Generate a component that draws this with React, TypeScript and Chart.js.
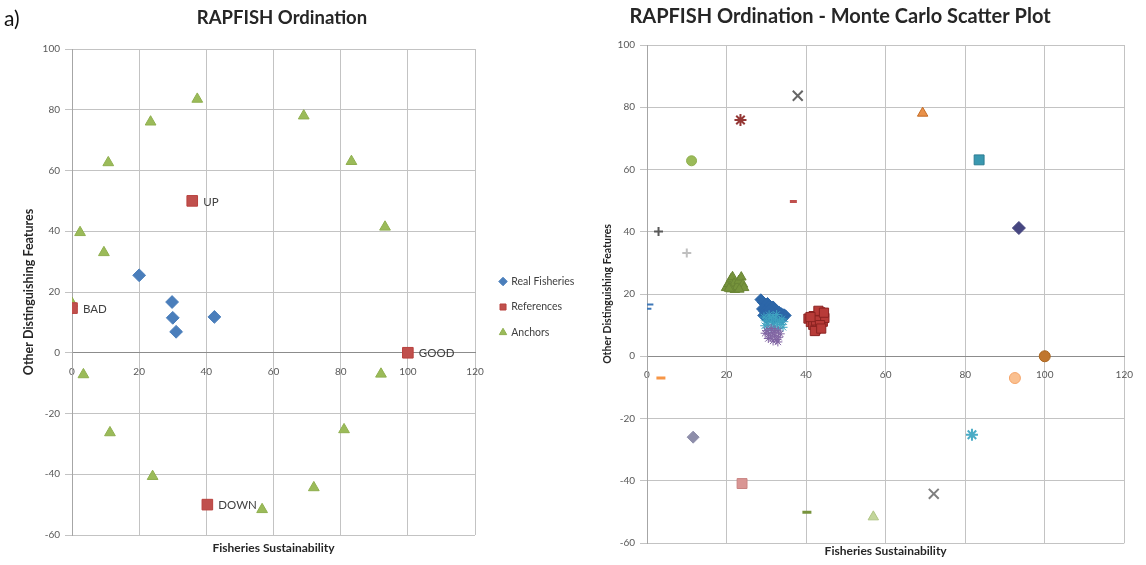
import React, { useEffect, useRef, useMemo } from "react";
import { Chart, registerables } from "chart.js";

Chart.register(...registerables);

const FONT = "Lato, 'Open Sans', sans-serif";

// ---------- Left chart: RAPFISH Ordination ----------
const xTicks = [0, 20, 40, 60, 80, 100, 120];
const yTicks = [-60, -40, -20, 0, 20, 40, 60, 80, 100];

const realFisheries = [
  { x: 20, y: 25.5 },
  { x: 29.8, y: 16.7 },
  { x: 30, y: 11.5 },
  { x: 31, y: 6.9 },
  { x: 42.4, y: 11.8 },
];

const referenceNames = ["BAD", "UP", "GOOD", "DOWN"];
const references = [
  { x: 0, y: 14.7 },
  { x: 35.8, y: 50 },
  { x: 100, y: 0 },
  { x: 40.3, y: -50 },
];

const anchors = [
  { x: 37.3, y: 83.5 },
  { x: 23.4, y: 76 },
  { x: 10.8, y: 62.6 },
  { x: 69, y: 78 },
  { x: 83.2, y: 63 },
  { x: 93.2, y: 41.4 },
  { x: 2.4, y: 39.6 },
  { x: 9.5, y: 33 },
  { x: 0, y: 16.3 },
  { x: 3.4, y: -7.2 },
  { x: 11.3, y: -26.3 },
  { x: 24, y: -40.7 },
  { x: 56.6, y: -51.6 },
  { x: 72, y: -44.4 },
  { x: 81, y: -25.3 },
  { x: 92, y: -7 },
];

// ---------- Right chart: Monte Carlo scatter ----------
const mcBlueDiamonds = [
  [28.6, 18.2], [29.2, 17.3], [29.8, 16.6], [30.3, 17], [30.8, 16.2], [31.2, 15.6],
  [31.7, 15.9], [32.2, 15.1], [32.7, 14.6], [33.2, 14.2], [33.8, 13.7], [34.4, 13.4],
  [34.8, 13.1], [29, 15.2], [29.6, 14.4], [30.2, 13.9], [30.7, 14.8], [31.4, 14.1],
  [32, 13.4], [32.6, 12.9], [33.3, 12.5], [29.3, 13.1], [30.1, 12.3], [31, 12.8],
  [31.8, 11.9], [34, 12.1],
];
const mcTealStars = [
  [29.4, 12.6], [29.9, 11.4], [30.4, 10.3], [30.9, 12.2], [31.3, 11], [31.8, 10],
  [32.3, 11.7], [32.8, 10.6], [33.3, 11.3], [33.9, 12], [34.4, 11.1], [30.2, 9.1],
  [31.2, 8.7], [32.1, 9.4], [33, 8.9], [30.7, 13.3], [31.7, 12.9], [32.6, 13.4],
  [33.7, 10.2], [29.6, 9.8], [34.2, 9.3],
];
const mcPurpleStars = [
  [30.1, 8.2], [30.6, 7.1], [31.1, 6.2], [31.6, 7.6], [32.1, 6.6], [32.6, 5.4],
  [33.1, 6.1], [33.5, 7.2], [31.2, 8.9], [32.2, 8.3], [30.5, 5.7], [33, 8.1],
  [31.7, 4.9], [29.7, 7.4], [32.9, 4.6],
];
const mcRedSquares = [
  [40.6, 12.1], [41.2, 11], [41.8, 10.1], [41.9, 12.9], [42.4, 8.6], [42.9, 9.2],
  [43, 12.2], [43.6, 14.1], [44.1, 13.3], [44.2, 11.1], [44.6, 12.3], [42.5, 11.5],
  [43.1, 14.6], [41.1, 12.6], [43.5, 10], [42.2, 8.1], [43.8, 8.9], [44.5, 14],
];
const mcGreenTriangles = [
  [19.9, 22], [20.5, 23.3], [21.1, 24.8], [21.5, 25.5], [21.9, 23.4], [22.1, 21.4],
  [22.6, 22.3], [23.1, 24.3], [23.7, 25.4], [24.1, 23.1], [24.4, 22], [21, 21.6],
  [23.2, 21.5], [20.6, 21.8],
];
const mcGrayX1 = [[37.9, 83.7]];
const mcRedStar = [[23.5, 75.9]];
const mcGreenCircle = [[11.2, 62.8]];
const mcOrangeTriangle = [[69.3, 78.1]];
const mcTealSquare = [[83.5, 63.1]];
const mcNavyDiamond = [[93.5, 41.2]];
const mcRedDash = [[36.8, 49.7]];
const mcDarkPlus = [[2.9, 40.1]];
const mcLightPlus = [[10, 33.2]];
const mcBlueDash = [[0.6, 16.6], [0.1, 15.3]];
const mcOrangeDash = [[3.5, -7]];
const mcPeachCircle = [[92.5, -7]];
const mcBrownCircle = [[100, 0]];
const mcGrayDiamond = [[11.6, -26]];
const mcPinkSquare = [[23.9, -40.9]];
const mcOliveDash = [[40.2, -50.1]];
const mcLightGreenTriangle = [[56.9, -51.6]];
const mcGrayX2 = [[72.1, -44.2]];
const mcTealStar = [[81.7, -25.2]];

type Series = {
  data: number[][];
  style: string;
  r: number;
  fill: string;
  stroke: string;
  bw: number;
};

const mcSeries: Series[] = [
  { data: mcGreenTriangles, style: "triangle", r: 5.6, fill: "#76933C", stroke: "#6A8535", bw: 1 },
  { data: mcRedSquares, style: "rect", r: 6.5, fill: "#B83B38", stroke: "#8B2321", bw: 1 },
  { data: mcPurpleStars, style: "star", r: 4.5, fill: "#8064A2", stroke: "#8064A2", bw: 1 },
  { data: mcTealStars, style: "star", r: 4.5, fill: "#3FA3C0", stroke: "#3FA3C0", bw: 1 },
  { data: mcBlueDiamonds, style: "rectRot", r: 5.8, fill: "#2C66A8", stroke: "#2C66A8", bw: 1 },
  { data: mcGrayX1, style: "crossRot", r: 7, fill: "#666666", stroke: "#666666", bw: 2 },
  { data: mcRedStar, style: "star", r: 6, fill: "#953735", stroke: "#953735", bw: 2 },
  { data: mcGreenCircle, style: "circle", r: 5, fill: "#9BBB59", stroke: "#8FAF4F", bw: 1 },
  { data: mcOrangeTriangle, style: "triangle", r: 6, fill: "#E9914A", stroke: "#C46A22", bw: 1 },
  { data: mcTealSquare, style: "rect", r: 7, fill: "#3A98B0", stroke: "#2B7C92", bw: 1 },
  { data: mcNavyDiamond, style: "rectRot", r: 6.5, fill: "#464680", stroke: "#464680", bw: 1 },
  { data: mcRedDash, style: "line", r: 3.5, fill: "#C0504D", stroke: "#C0504D", bw: 3 },
  { data: mcDarkPlus, style: "cross", r: 4.5, fill: "#595959", stroke: "#595959", bw: 2 },
  { data: mcLightPlus, style: "cross", r: 4.5, fill: "#BFBFBF", stroke: "#BFBFBF", bw: 2 },
  { data: mcBlueDash, style: "line", r: 4, fill: "#3E78B8", stroke: "#3E78B8", bw: 2 },
  { data: mcOrangeDash, style: "line", r: 4.5, fill: "#F79646", stroke: "#F79646", bw: 3 },
  { data: mcPeachCircle, style: "circle", r: 5.5, fill: "#FAC090", stroke: "#F5A56A", bw: 1 },
  { data: mcBrownCircle, style: "circle", r: 5.5, fill: "#C0762E", stroke: "#A9651F", bw: 1 },
  { data: mcGrayDiamond, style: "rectRot", r: 6, fill: "#8E8EAA", stroke: "#8E8EAA", bw: 1 },
  { data: mcPinkSquare, style: "rect", r: 7, fill: "#D99694", stroke: "#C98482", bw: 1 },
  { data: mcOliveDash, style: "line", r: 4.5, fill: "#77933C", stroke: "#77933C", bw: 3 },
  { data: mcLightGreenTriangle, style: "triangle", r: 6, fill: "#C3D69B", stroke: "#B0C585", bw: 1 },
  { data: mcGrayX2, style: "crossRot", r: 7, fill: "#7F7F7F", stroke: "#7F7F7F", bw: 2 },
  { data: mcTealStar, style: "star", r: 6, fill: "#4BACC6", stroke: "#4BACC6", bw: 2 },
];

// ---------- shared styling ----------
const GRID = "#C3C3C3";
const TICK_COLOR = "#595959";
const TITLE_COLOR = "#262626";
const LEFT_LEGEND_GAP = 10;

const refLabelPlugin = {
  id: "refLabels",
  afterDatasetsDraw(chart: any) {
    const meta = chart.getDatasetMeta(1);
    const ctx = chart.ctx;
    ctx.save();
    ctx.font = `11.5px ${FONT}`;
    ctx.fillStyle = "#404040";
    ctx.textBaseline = "middle";
    ctx.textAlign = "left";
    meta.data.forEach((el: any, i: number) => {
      ctx.fillText(referenceNames[i], el.x + 11, el.y + 1);
    });
    ctx.restore();
  },
};

function chartTitlePlugin(text: string, size: number, cx: number, cy: number) {
  return {
    id: "chartTitle",
    afterDraw(chart: any) {
      const ctx = chart.ctx;
      ctx.save();
      ctx.font = `bold ${size}px ${FONT}`;
      ctx.fillStyle = TITLE_COLOR;
      ctx.textAlign = "center";
      ctx.textBaseline = "middle";
      ctx.fillText(text, cx, cy);
      ctx.restore();
    },
  };
}

function baseScales(opts: {
  yWidth: number;
  yTitlePad: number;
  yTitleSize: number;
  x2Height: number;
  x2TitlePad: number;
  x2TitleSize: number;
}) {
  return {
    x: {
      type: "linear",
      position: { y: 0 },
      min: xTicks[0],
      max: xTicks[xTicks.length - 1],
      afterBuildTicks: (s: any) => {
        s.ticks = xTicks.map((v) => ({ value: v }));
      },
      grid: { color: GRID, lineWidth: 1, drawTicks: false },
      border: { display: true, color: "#8C8C8C", width: 1 },
      ticks: { color: TICK_COLOR, padding: 13, font: { family: FONT, size: 10 }, maxRotation: 0 },
    },
    x2: {
      type: "linear",
      position: "bottom",
      grid: { display: false },
      border: { display: false },
      ticks: { display: false },
      title: {
        display: true,
        text: "Fisheries Sustainability",
        color: TITLE_COLOR,
        font: { family: FONT, size: opts.x2TitleSize, weight: "bold" },
        padding: { top: 0, bottom: opts.x2TitlePad },
      },
      afterFit: (s: any) => {
        s.height = opts.x2Height;
      },
    },
    y: {
      type: "linear",
      position: "left",
      min: yTicks[0],
      max: yTicks[yTicks.length - 1],
      afterBuildTicks: (s: any) => {
        s.ticks = yTicks.map((v) => ({ value: v }));
      },
      grid: { color: GRID, lineWidth: 1, drawTicks: true, tickLength: 7 },
      border: { display: true, color: "#A6A6A6", width: 1 },
      ticks: { color: TICK_COLOR, padding: 5, font: { family: FONT, size: 10 } },
      title: {
        display: true,
        text: "Other Distinguishing Features",
        color: TITLE_COLOR,
        font: { family: FONT, size: opts.yTitleSize, weight: "bold" },
        padding: { top: opts.yTitlePad, bottom: 0 },
      },
      afterFit: (s: any) => {
        s.width = opts.yWidth;
      },
    },
  } as any;
}

function leftConfig(rightPad: number): any {
  const scales = baseScales({
    yWidth: 58,
    yTitlePad: 7,
    yTitleSize: 12.5,
    x2Height: 30,
    x2TitlePad: 10,
    x2TitleSize: 12,
  });
  scales.y2 = {
    type: "linear",
    position: "right",
    grid: { display: false },
    border: { display: false },
    ticks: { display: false },
    afterFit: (s: any) => {
      s.width = LEFT_LEGEND_GAP;
    },
  };
  return {
    type: "scatter",
    data: {
      datasets: [
        {
          label: "Real Fisheries",
          data: realFisheries,
          pointStyle: "rectRot",
          pointRadius: 6.4,
          backgroundColor: "#4A7EBB",
          borderColor: "#4A7EBB",
          borderWidth: 1,
        },
        {
          label: "References",
          data: references,
          pointStyle: "rect",
          pointRadius: 7.5,
          backgroundColor: "#C0504D",
          borderColor: "#B8403D",
          borderWidth: 1,
        },
        {
          label: "Anchors",
          data: anchors,
          pointStyle: "triangle",
          pointRadius: 6.2,
          backgroundColor: "#9BBB59",
          borderColor: "#8FAF4F",
          borderWidth: 1,
        },
      ],
    },
    options: {
      responsive: false,
      animation: false,
      events: [],
      layout: { padding: { left: 14, right: rightPad, top: 49, bottom: 0 } },
      plugins: {
        title: { display: false },
        legend: {
          position: "right",
          labels: {
            usePointStyle: true,
            boxWidth: 6,
            boxHeight: 6,
            padding: 15,
            color: "#404040",
            font: { family: FONT, size: 10.5 },
          },
        },
        tooltip: { enabled: false },
      },
      scales,
    },
    plugins: [refLabelPlugin, chartTitlePlugin("RAPFISH Ordination", 18.5, 282, 18)],
  };
}

function rightConfig(): any {
  const scales = baseScales({
    yWidth: 97,
    yTitlePad: 51,
    yTitleSize: 10.5,
    x2Height: 22,
    x2TitlePad: 7,
    x2TitleSize: 12,
  });
  return {
    type: "scatter",
    data: {
      datasets: mcSeries.map((s) => ({
        data: s.data.map(([x, y]) => ({ x, y })),
        pointStyle: s.style,
        pointRadius: s.r,
        backgroundColor: s.fill,
        borderColor: s.stroke,
        borderWidth: s.bw,
      })),
    },
    options: {
      responsive: false,
      animation: false,
      events: [],
      layout: { padding: { left: 16, right: 16, top: 45, bottom: 0 } },
      plugins: {
        title: { display: false },
        legend: { display: false },
        tooltip: { enabled: false },
      },
      scales,
    },
    plugins: [
      chartTitlePlugin("RAPFISH Ordination - Monte Carlo Scatter Plot", 20, 840 - 534, 17),
    ],
  };
}

function ChartCanvas(props: { left: number; width: number; build: () => any }) {
  const ref = useRef<HTMLCanvasElement>(null);
  useEffect(() => {
    const chart = new Chart(ref.current as HTMLCanvasElement, props.build());
    return () => chart.destroy();
  }, []);
  return (
    <canvas
      ref={ref}
      width={props.width}
      height={565}
      style={{ position: "absolute", left: props.left, top: 0, width: props.width, height: 565 }}
    />
  );
}

export default function App() {
  const left = useMemo(() => {
    const c = document.createElement("canvas");
    const ctx = c.getContext("2d") as CanvasRenderingContext2D;
    ctx.font = `10.5px ${FONT}`;
    const labels = ["Real Fisheries", "References", "Anchors"];
    const textW = Math.max(...labels.map((l) => ctx.measureText(l).width));
    // approximate Chart.js vertical legend width
    const legendW = 15 + 6 + 10.5 / 2 + textW + 7;
    const exact = 473 + LEFT_LEGEND_GAP + legendW;
    const width = Math.ceil(exact) + 2;
    return { width, rightPad: width - exact };
  }, []);

  return (
    <div
      style={{
        position: "absolute",
        left: 0,
        top: 0,
        width: 1146,
        height: 565,
        overflow: "hidden",
        background: "#ffffff",
      }}
    >
      <ChartCanvas left={0} width={left.width} build={() => leftConfig(left.rightPad)} />
      <ChartCanvas left={534} width={612} build={rightConfig} />
      <div
        style={{
          position: "absolute",
          left: 4,
          top: 6,
          fontFamily: FONT,
          fontSize: 21,
          lineHeight: "24px",
          color: "#111111",
        }}
      >
        a)
      </div>
    </div>
  );
}
